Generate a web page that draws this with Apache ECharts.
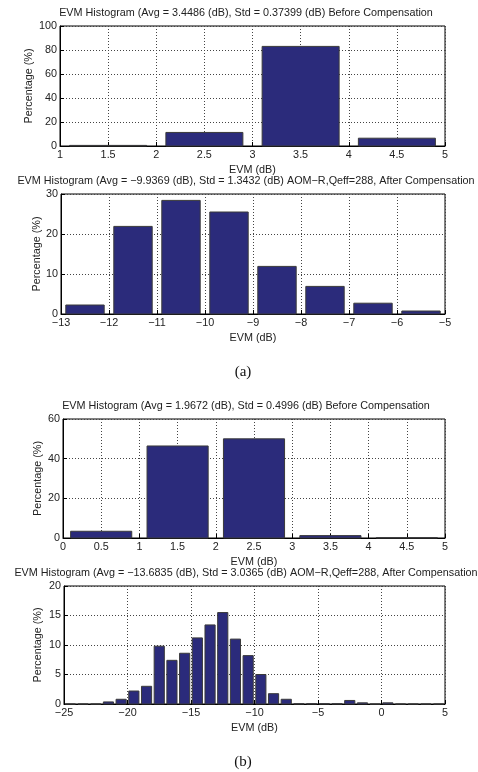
<!DOCTYPE html>
<html>
<head>
<meta charset="utf-8">
<script src="https://cdn.jsdelivr.net/npm/echarts@6/dist/echarts.min.js"></script>
<style>
    html, body { margin: 0; padding: 0; background: #fff; }
    #chart { width: 478px; height: 772px; }
</style>
</head>
<body>
<div id="chart"></div>
<script>
// bin centres and percentages for each histogram
const binsA1 = [1.5, 2.5, 3.5, 4.5];
const pctA1 = [0.5, 11.3, 83.0, 6.5];

const binsA2 = [-12.5, -11.5, -10.5, -9.5, -8.5, -7.5, -6.5, -5.5];
const pctA2 = [2.25, 21.9, 28.4, 25.5, 11.9, 6.9, 2.7, 0.75];

const binsB1 = [0.5, 1.5, 2.5, 3.5, 4.5];
const pctB1 = [3.4, 46.4, 50.0, 1.2, 0.15];

const binsB2 = [-24.5, -23.5, -22.5, -21.5, -20.5, -19.5, -18.5, -17.5, -16.5, -15.5,
    -14.5, -13.5, -12.5, -11.5, -10.5, -9.5, -8.5, -7.5, -6.5, -5.5,
    -4.5, -3.5, -2.5, -1.5, -0.5, 0.5, 1.5, 2.5, 3.5, 4.5];
const pctB2 = [0, 0, 0, 0.35, 0.8, 2.2, 3.0, 9.8, 7.4, 8.6,
    11.2, 13.4, 15.5, 11.0, 8.2, 5.0, 1.75, 0.8, 0.05, 0.05,
    0.05, 0.05, 0.6, 0.2, 0, 0.2, 0, 0, 0, 0];

const titles = [
    "EVM Histogram (Avg = 3.4486 (dB), Std = 0.37399 (dB) Before Compensation",
    "EVM Histogram (Avg = \u22129.9369 (dB), Std = 1.3432 (dB) AOM\u2212R,Qeff=288, After Compensation",
    "EVM Histogram (Avg = 1.9672 (dB), Std = 0.4996 (dB) Before Compensation",
    "EVM Histogram (Avg = \u221213.6835 (dB), Std = 3.0365 (dB) AOM\u2212R,Qeff=288, After Compensation"
];

// x range / tick step, y range / tick step per panel
const xRanges = [[1, 5, 0.5], [-13, -5, 1], [0, 5, 0.5], [-25, 5, 5]];
const yRanges = [[0, 100, 20], [0, 30, 10], [0, 60, 20], [0, 20, 5]];

const FONT = "'Liberation Sans', Arial, sans-serif";
const TEXT = "#222";
const BAR_FILL = "#2b2b7b";
const BAR_EDGE = "#3a3a3a";
const FS = 10.8;

// plot boxes in pixels
const boxes = [
    { left: 60, top: 26, height: 120, nameGap: 25 },
    { left: 61, top: 194, height: 120, nameGap: 18 },
    { left: 63, top: 419, height: 119, nameGap: 19 },
    { left: 64, top: 586, height: 118, nameGap: 20 }
];

const fmt = v => String(+v.toFixed(2)).replace("-", "\u2212");

// draw a histogram bar 0.8 bin wide through the axis scales
function barItem(params, api) {
    const x = api.value(0);
    const y = api.value(1);
    const p0 = api.coord([x - 0.4, y]);
    const p1 = api.coord([x + 0.4, 0]);
    return {
        type: "rect",
        shape: { x: p0[0], y: p0[1], width: p1[0] - p0[0], height: p1[1] - p0[1] },
        style: { fill: BAR_FILL, stroke: BAR_EDGE, lineWidth: 1 }
    };
}

const gridLine = { show: true, lineStyle: { color: "#444", type: [1, 2], width: 1 } };

const chart = echarts.init(document.getElementById("chart"));
const series = [[binsA1, pctA1], [binsA2, pctA2], [binsB1, pctB1], [binsB2, pctB2]];

chart.setOption({
    animation: false,
    textStyle: { fontFamily: FONT },
    title: titles.map((text, i) => ({
        text,
        left: 246,
        textAlign: "center",
        top: boxes[i].top - 18,
        padding: 0,
        textStyle: { fontFamily: FONT, fontSize: FS, fontWeight: "normal", color: TEXT }
    })),
    graphic: [
        { type: "text", x: 243, y: 372, style: { text: "(a)", font: "15px 'Liberation Serif', serif", fill: "#111", textAlign: "center", textVerticalAlign: "middle" } },
        { type: "text", x: 243, y: 762, style: { text: "(b)", font: "15px 'Liberation Serif', serif", fill: "#111", textAlign: "center", textVerticalAlign: "middle" } }
    ],
    grid: boxes.map(b => ({
        left: b.left, right: 33, top: b.top, height: b.height,
        show: true, borderColor: "#000", borderWidth: 1, backgroundColor: "#fff"
    })),
    xAxis: xRanges.map((r, i) => ({
        type: "value", gridIndex: i, min: r[0], max: r[1], interval: r[2],
        name: "EVM (dB)", nameLocation: "middle", nameGap: 19,
        nameTextStyle: { fontSize: FS, color: TEXT },
        axisLine: { onZero: false, lineStyle: { color: "#000" } },
        axisTick: { inside: true, length: 4, lineStyle: { color: "#000" } },
        axisLabel: { fontSize: FS, color: TEXT, margin: 4, formatter: fmt },
        splitLine: gridLine
    })),
    yAxis: yRanges.map((r, i) => ({
        type: "value", gridIndex: i, min: r[0], max: r[1], interval: r[2],
        name: "Percentage (%)", nameLocation: "middle", nameGap: boxes[i].nameGap,
        nameMoveOverlap: false,
        nameTextStyle: { fontSize: FS, color: TEXT },
        axisLine: { show: true, onZero: false, lineStyle: { color: "#000" } },
        axisTick: { show: true, inside: true, length: 4, lineStyle: { color: "#000" } },
        axisLabel: { fontSize: FS, color: TEXT, margin: 3, formatter: fmt },
        splitLine: gridLine
    })),
    series: series.map(([bins, pct], i) => ({
        type: "custom",
        xAxisIndex: i,
        yAxisIndex: i,
        renderItem: barItem,
        encode: { x: 0, y: 1 },
        data: bins.map((b, k) => [b, pct[k]])
    }))
});
</script>
</body>
</html>
